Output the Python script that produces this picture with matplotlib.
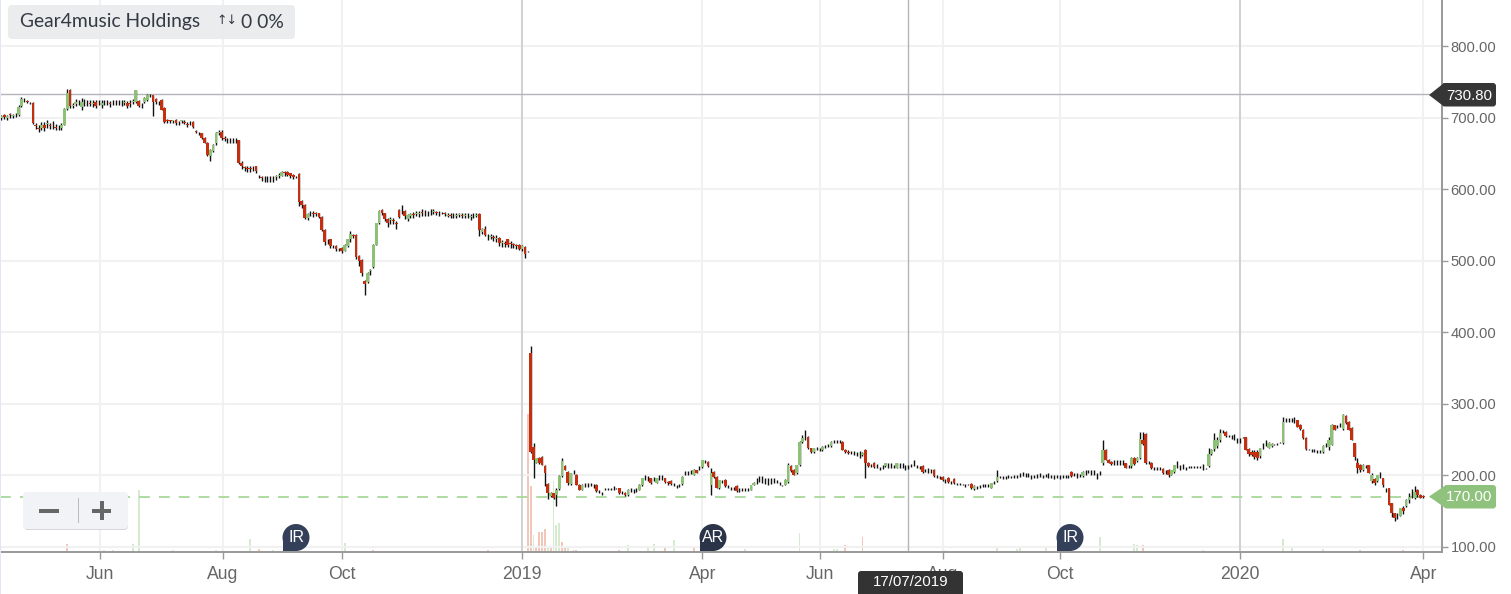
import matplotlib
matplotlib.use('Agg')
import matplotlib.pyplot as plt
from matplotlib.patches import FancyBboxPatch, Polygon, Circle, Rectangle

# daily candles, oldest first (pence)
opens = [
 699,703,700,705,702,703,704,716,725,723, 721,721,690,686,685,690,691,689,689,687,
 686,686,690,712,739,716,719,721,715,721, 720,720,719,722,721,718,720,721,720,720,
 721,720,721,721,721,720,722,722,723,718, 722,725,731,731,726,721,725,714,696,696,
 695,696,693,695,694,691,692,694,681,679, 678,672,665,646,654,664,679,680,671,669,
 669,669,668,668,637,631,629,629,629,632, 619,617,615,616,615,615,617,619,619,624,
 624,622,620,618,621,583,578,560,566,566, 566,566,561,543,527,530,521,521,516,518,
 514,521,530,536,536,507,501,471,470,486, 491,522,553,571,566,558,557,557,553,571,
 568,570,558,563,565,565,565,568,567,566, 568,568,568,566,567,566,563,564,562,563,
 564,564,563,563,561,562,563,565,540,545, 535,533,533,531,532,525,525,530,525,523,
 522,522,517,519,513,371,240,218,225,226, 213,188,171,175,172,181,199,213,205,188,
 205,201,187,180,187,187,188,186,187,177, 175,181,181,181,182,182,182,176,176,172,
 180,178,180,180,187,198,198,196,195,190, 196,197,196,191,192,187,185,186,188,203,
 203,205,201,207,210,212,220,219,187,205, 198,182,192,194,184,182,182,185,180,181,
 180,180,180,187,192,195,194,192,192,193, 193,192,189,186,187,191,213,208,203,215,
 247,252,254,238,233,238,236,235,240,242, 241,247,247,247,247,236,233,232,231,230,
 230,228,236,218,214,218,213,210,212,213, 214,214,213,211,214,214,210,212,214,215,
 212,211,213,207,207,206,208,198,197,198, 192,197,190,195,188,188,187,186,187,188,
 181,183,185,186,186,186,183,190,192,198, 197,197,198,198,198,198,201,202,201,201,
 198,198,199,201,199,200,200,198,198,198, 198,198,198,198,205,201,200,200,199,204,
 205,204,205,200,203,217,236,222,219,218, 218,218,218,217,212,213,225,220,224,250,
 258,218,218,210,210,210,209,205,208,201, 205,214,212,213,210,212,212,212,212,212,
 212,210,213,230,237,241,250,261,260,255, 254,254,250,250,253,253,237,233,233,233,
 227,241,245,239,241,243,244,246,245,277, 277,277,277,277,271,264,252,236,235,235,
 234,233,233,243,240,243,270,268,270,265, 283,275,266,245,218,214,208,213,214,192,
 195,192,199,196,182,182,161,147,143,144, 155,157,165,172,168,179,173,171]
closes = [
 702,701,702,703,703,704,715,726,724,722, 720,692,688,684,690,685,692,688,690,686,
 686,690,712,735,716,718,722,720,722,720, 721,719,720,716,720,720,721,720,719,721,
 720,721,720,722,716,719,723,738,716,718, 728,732,731,722,722,720,711,694,695,695,
 696,692,692,696,693,690,693,687,680,678, 672,665,648,655,662,678,680,672,670,668,
 668,668,668,636,632,630,628,628,630,625, 618,616,616,615,616,616,618,620,624,622,
 620,619,617,618,582,578,560,565,566,565, 565,561,543,526,528,520,520,516,516,513,
 522,530,538,535,505,500,483,468,483,487, 522,553,570,566,558,553,558,556,552,561,
 568,563,564,565,564,566,566,567,566,567, 568,569,567,567,566,565,564,563,563,564,
 565,563,564,562,562,563,564,543,545,536, 534,534,532,532,525,526,524,522,524,522,
 521,516,521,510,513,233,222,224,217,215, 203,175,176,168,180,199,220,208,189,203,
 205,187,180,187,187,187,188,186,178,177, 175,181,181,181,182,182,175,176,172,180,
 180,178,180,187,196,198,198,190,195,196, 197,197,191,189,188,187,185,186,198,203,
 203,205,208,204,210,221,220,213,203,198, 183,193,192,185,184,182,182,178,180,181,
 180,180,186,190,192,195,194,192,192,193, 193,192,189,186,194,215,206,201,214,247,
 252,252,238,233,238,238,236,240,240,242, 247,247,247,247,236,233,231,232,231,230,
 230,232,217,213,214,212,213,210,212,217, 214,214,213,217,214,214,210,212,214,215,
 212,211,205,207,207,206,199,198,197,193, 192,191,190,189,188,188,187,186,187,182,
 185,183,185,186,186,186,189,190,198,198, 197,197,198,198,198,198,201,202,201,201,
 198,198,199,201,199,200,200,198,198,198, 198,198,198,198,199,201,200,200,205,204,
 205,204,205,200,203,236,222,218,216,218, 218,218,218,211,212,225,216,225,251,244,
 217,218,210,210,210,210,203,205,201,207, 214,214,212,213,210,212,212,212,212,212,
 212,210,230,236,250,250,259,261,255,255, 254,254,250,250,253,236,230,229,226,224,
 238,241,245,246,244,243,244,246,275,277, 277,277,277,268,265,252,237,236,235,235,
 234,233,241,243,250,270,264,268,270,285, 273,264,250,226,210,208,214,213,204,200,
 189,200,199,186,182,159,148,140,143,154, 150,166,170,172,177,173,169,170]
wick_up = [
 2,2,2,2,2,2,3,3,2,1, 1,1,3,3,4,4,5,4,5,4, 3,3,2,5,1,3,4,4,6,5, 3,4,4,2,4,4,3,3,3,3,
 3,3,3,3,2,4,3,0,1,2, 1,1,2,1,2,2,1,1,2,1, 1,2,2,1,2,3,2,1,1,1, 1,1,1,1,1,2,3,3,3,3,
 3,3,3,1,3,2,3,3,2,1, 1,2,3,3,3,3,2,2,1,1, 1,1,1,1,1,2,1,1,4,3, 2,1,1,1,3,1,1,1,2,1,
 1,1,3,1,1,1,1,2,1,2, 2,0,1,1,1,2,3,3,2,1, 10,1,1,2,3,3,3,4,4,3, 4,3,2,2,1,2,2,2,4,3,
 2,2,2,3,3,3,2,1,1,3, 3,4,3,4,1,3,3,1,3,2, 2,1,1,1,1,10,5,1,1,1, 1,1,1,1,2,1,5,1,1,1,
 2,1,1,1,2,2,2,2,1,2, 2,2,2,2,3,1,1,2,1,1, 3,3,3,1,1,2,1,1,3,1, 3,3,1,1,1,2,2,2,1,3,
 3,3,1,1,3,1,2,1,7,1, 1,1,2,1,2,2,2,1,2,2, 2,2,1,1,4,4,5,5,4,4, 4,2,2,1,1,2,1,1,1,1,
 4,11,1,1,1,2,2,1,2,2, 1,2,3,3,1,1,2,2,3,3, 4,1,1,1,2,1,3,2,2,1, 3,3,2,1,3,3,5,3,2,7,
 2,2,1,2,3,3,1,2,2,1, 3,1,2,1,2,1,1,2,1,1, 1,2,2,2,2,2,1,2,9,1, 2,2,2,1,2,2,3,3,3,3,
 3,2,3,3,2,2,3,2,3,2, 3,2,2,2,1,2,3,2,1,3, 2,3,3,3,3,14,1,1,1,3, 3,4,4,1,2,1,1,1,10,11,
 1,2,1,2,2,2,1,2,1,1, 1,6,3,3,2,1,1,1,1,1, 4,1,8,1,9,3,6,2,2,1, 2,4,2,2,1,1,1,2,2,2,
 1,4,4,1,1,1,1,1,6,3, 3,3,4,1,1,1,1,1,2,2, 2,2,1,3,3,2,1,3,3,1, 1,1,1,1,7,2,2,2,1,4,
 2,1,6,1,1,1,1,1,4,1, 2,1,5,9,8,2,1,1]
wick_dn = [
 3,3,3,3,3,2,2,1,2,2, 1,1,4,4,3,4,5,4,5,4, 4,3,1,1,3,3,3,3,4,4, 4,3,4,3,3,4,3,3,4,3,
 3,3,4,3,3,4,3,1,1,5, 2,2,2,20,3,3,1,1,2,3, 3,2,2,3,2,3,2,1,2,2, 2,1,1,7,2,3,3,3,3,3,
 3,3,3,1,4,4,4,4,3,2, 2,5,5,5,5,5,4,3,1,3, 1,4,3,3,5,4,2,3,4,4, 3,1,2,4,4,2,2,2,3,2,
 1,2,4,3,3,8,4,16,1,6, 1,0,1,2,3,6,6,4,7,1, 3,5,3,3,4,3,4,5,4,4, 4,3,3,3,1,2,2,3,3,3,
 3,3,3,3,4,3,2,8,2,2, 5,3,5,5,4,6,5,3,6,4, 4,1,4,6,1,1,26,1,1,1, 18,8,1,1,15,1,1,1,3,1,
 3,1,1,1,3,3,3,3,1,2, 2,2,2,2,3,1,1,2,1,1, 3,3,3,1,2,4,6,2,3,1, 2,3,1,2,1,2,2,2,1,3,
 2,3,1,1,3,1,2,1,14,1, 1,1,2,1,2,3,2,1,3,3, 2,2,1,1,4,4,5,4,5,5, 4,2,2,1,1,1,1,1,1,2,
 2,2,1,1,1,2,2,1,2,2, 1,2,2,2,1,1,1,2,3,3, 6,1,21,1,2,1,3,2,3,1, 3,3,2,1,3,3,3,3,2,2,
 2,2,1,2,3,3,1,1,2,1, 2,1,2,1,2,1,1,2,1,1, 1,2,2,2,2,2,1,2,1,1, 2,2,2,1,2,2,3,3,3,3,
 3,2,3,3,2,2,3,2,3,2, 3,2,2,2,1,2,3,2,1,3, 2,3,5,5,3,2,1,1,1,3, 3,4,4,1,2,2,1,1,1,2,
 1,2,1,2,2,2,1,3,3,1, 1,4,4,4,2,1,1,1,1,1, 4,1,1,1,3,3,3,2,2,1, 3,4,4,4,1,1,3,2,3,3,
 3,4,4,1,1,1,1,1,1,3, 3,3,4,1,1,1,1,1,2,2, 2,2,1,3,5,1,1,2,2,1, 1,1,1,4,7,3,2,2,1,2,
 2,1,3,2,5,1,6,3,4,1, 4,1,3,3,1,3,1,1]

# volume bars, only the days that show (relative height, 1 up / 0 down)
vol_day = [8,23,36,39,46,48,60,75,87,90,95,120,130,150,170,
           184,185,186,187,188,189,190,191,192,193,194,195,196,197,198,200,201,
           216,219,226,228,232,235,242,260,279,291,292,295,301,330,348,355,356,365,
           384,396,397,399,420,448,451,462,475,490]
vol_size = [1,8,2,2,8,62,2,2,13,3,2,9,2,1,2,
            138,66,17,5,20,20,23,6,5,71,27,29,10,5,5,2,2,
            2,7,5,8,4,12,4,3,19,3,3,7,15,2,5,3,5,5,
            15,8,7,7,2,13,5,3,2,2]
vol_up = [0,0,1,1,1,1,1,1,1,0,1,1,0,0,0,
          0,0,1,0,0,0,0,1,0,1,1,1,0,0,1,0,0,
          0,1,1,1,0,1,0,1,1,1,1,0,0,1,1,1,1,1,
          1,1,1,0,1,1,1,1,0,0]

tick_days = [34.5,77.5,119,182,245,286,329,370,433,497]
tick_names = ['Jun','Aug','Oct','2019','Apr','Jun','Aug','Oct','2020','Apr']
price_ticks = [100,200,300,400,500,600,700,800]
year_days = [182,433]
cross_day = 317
cross_line = 733
last_price = 170

W, H = 1511, 594
fig = plt.figure(figsize=(W/100, H/100), dpi=100)
ax = fig.add_axes([0, (H-551.5)/H, 1441.5/W, 551.5/H])
vol = fig.add_axes(ax.get_position(), zorder=0)
ax.set_zorder(1)
ax.patch.set_visible(False)

days = list(range(len(closes)))

# volume first so the candles sit on top
vol.bar(vol_day, vol_size, width=0.65,
        color=['#d6ead0' if u else '#f3c6ba' for u in vol_up])
vol.set_xlim(-0.49, 503.4)
vol.set_ylim(0, 551.5)
vol.axis('off')

ax.set_xlim(-0.49, 503.4)
ax.set_ylim(93.7, 864.3)
ax.grid(True, color='#f1f1f2', lw=1.5)
ax.set_axisbelow(True)
for d in year_days:
    ax.axvline(d, color='#cfcfcf', lw=1.3, zorder=1)
ax.axvline(cross_day, color='#b4b4bc', lw=1, zorder=1)
ax.axhline(cross_line, color='#b4b4bc', lw=1, zorder=1)
ax.axhline(last_price, color='#a9d89b', lw=1.3, dashes=(6, 5), zorder=1)

highs = [max(o, c)+u for o, c, u in zip(opens, closes, wick_up)]
lows = [min(o, c)-d for o, c, d in zip(opens, closes, wick_dn)]
ax.vlines(days, lows, highs, color='#111111', lw=1.0, zorder=2)
heights = [c-o for o, c in zip(opens, closes)]
body_cols = ['#8cc176' if h > 0 else '#c4300f' for h in heights]
ax.bar(days, heights, bottom=opens, width=0.95, color=body_cols, zorder=3)

ax.yaxis.tick_right()
ax.set_yticks(price_ticks)
ax.set_yticklabels(['%.2f' % p for p in price_ticks], fontsize=10.6, color='#666666',
                   family='Liberation Sans')
ax.set_xticks(tick_days)
ax.set_xticklabels(tick_names, fontsize=12.7, color='#666666', family='Liberation Sans')
ax.tick_params(axis='y', length=4, width=1, color='#999999', pad=2.5)
ax.tick_params(axis='x', length=5, width=1, color='#999999', pad=5.5)
for s in ['top', 'left']:
    ax.spines[s].set_visible(False)
for s in ['right', 'bottom']:
    ax.spines[s].set_color('#999999')
    ax.spines[s].set_linewidth(1.4)

# page furniture, in pixels of the picture
top = fig.add_axes([0, 0, 1, 1], zorder=5)
top.set_xlim(0, W)
top.set_ylim(H, 0)
top.axis('off')

top.add_patch(Rectangle((0, 0), 1.2, H, color='#e3e6f6', lw=0))

# legend
top.add_patch(FancyBboxPatch((8, 5), 287, 34, boxstyle='round,pad=0,rounding_size=4', lw=0,
                             fc='#e9ebed', alpha=0.92))
top.text(20, 22, 'Gear4music Holdings', family='Lato', fontsize=13.9, color='#333a44',
         va='center', ha='left')
top.text(227, 21, '↑↓', family='DejaVu Sans', fontsize=9, color='#333a44', va='center', ha='center')
top.text(241, 22, '0 0%', family='Lato', fontsize=13.9, color='#333a44', va='center', ha='left')

# zoom buttons
top.add_patch(FancyBboxPatch((24, 493), 104, 37, boxstyle='round,pad=0,rounding_size=4',
                             fc='#d5d6da', lw=0))
top.add_patch(FancyBboxPatch((23, 492), 105, 37, boxstyle='round,pad=0,rounding_size=4',
                             fc='#f2f3f7', lw=0))
top.add_patch(Rectangle((39, 508.5), 20, 4, color='#666666', lw=0))
top.add_patch(Rectangle((92, 508.5), 19, 4, color='#666666', lw=0))
top.add_patch(Rectangle((99.5, 501), 4, 19, color='#666666', lw=0))
top.add_patch(Rectangle((77.5, 498), 1.5, 25, color='#bbbbbb', lw=0))

# event badges
for bx, label, col in [(296, 'IR', '#34405a'), (713, 'AR', '#2a3347'), (1070, 'IR', '#34405a')]:
    top.add_patch(Circle((bx, 537.5), 13.5, fc=col, lw=0))
    top.add_patch(Rectangle((bx-13.5, 537.5), 13.5, 13.5, fc=col, lw=0))
    top.text(bx, 538, label, family='Liberation Sans', fontsize=11.5, color='white',
             ha='center', va='center')

# price tags
top.add_patch(FancyBboxPatch((1442, 83), 54, 23.5, boxstyle='round,pad=0,rounding_size=3',
                             fc='#363636', lw=0))
top.add_patch(Polygon([[1429, 95], [1444, 83], [1444, 106.5]], fc='#363636', lw=0))
top.text(1469, 95.5, '730.80', family='Liberation Sans', fontsize=10.8, color='white',
         ha='center', va='center')
top.add_patch(FancyBboxPatch((1444, 485), 52, 23.5, boxstyle='round,pad=0,rounding_size=3',
                             fc='#8fc27c', lw=0))
top.add_patch(Polygon([[1429, 496.5], [1446, 485], [1446, 508.5]], fc='#8fc27c', lw=0))
top.text(1469, 497, '170.00', family='Liberation Sans', fontsize=10.8, color='white',
         ha='center', va='center')

# crosshair date
top.add_patch(FancyBboxPatch((858, 571), 105, 30, boxstyle='round,pad=0,rounding_size=3',
                             fc='#333333', lw=0))
top.text(910.5, 582.5, '17/07/2019', family='Liberation Sans', fontsize=10.8, color='white',
         ha='center', va='center')

assert len(opens) == len(closes) == len(wick_up) == len(wick_dn)
assert len(vol_day) == len(vol_size) == len(vol_up)
fig.savefig('out.png', dpi=100)
